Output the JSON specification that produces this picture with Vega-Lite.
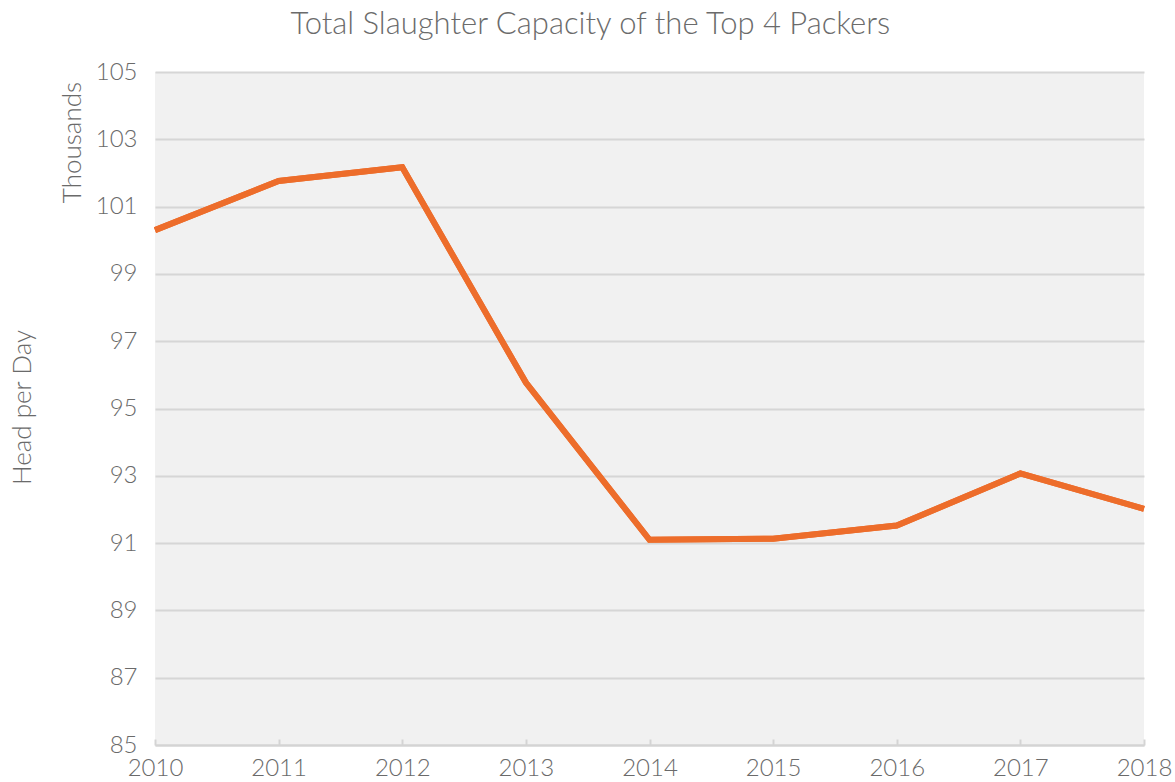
{
  "$schema": "https://vega.github.io/schema/vega-lite/v6.json",
  "autosize": {"type": "none"},
  "width": 989,
  "height": 673,
  "padding": {"left": 155, "top": 72, "right": 31, "bottom": 37},
  "background": "white",
  "title": {
    "text": "Total Slaughter Capacity of the Top 4 Packers",
    "anchor": "middle",
    "frame": "bounds",
    "font": "Lato",
    "fontSize": 31,
    "fontWeight": 300,
    "color": "#6b6b6b",
    "offset": 19
  },
  "config": {
    "view": {"fill": "#f1f1f1", "stroke": null},
    "axis": {
      "labelFont": "Lato",
      "labelFontSize": 24,
      "labelFontWeight": 300,
      "labelColor": "#6a6a6a",
      "titleFont": "Lato",
      "titleFontSize": 26,
      "titleFontWeight": 300,
      "titleColor": "#6a6a6a"
    }
  },
  "data": {
    "values": [
      {"year": 2010, "capacity": 100.3},
      {"year": 2011, "capacity": 101.76},
      {"year": 2012, "capacity": 102.17},
      {"year": 2013, "capacity": 95.77},
      {"year": 2014, "capacity": 91.1},
      {"year": 2015, "capacity": 91.13},
      {"year": 2016, "capacity": 91.52},
      {"year": 2017, "capacity": 93.07},
      {"year": 2018, "capacity": 92.02}
    ]
  },
  "encoding": {
    "x": {
      "field": "year",
      "type": "quantitative",
      "scale": {"domain": [2010, 2018], "nice": false, "zero": false},
      "axis": {
        "values": [2010, 2011, 2012, 2013, 2014, 2015, 2016, 2017, 2018],
        "format": "d",
        "title": null,
        "grid": false,
        "domainColor": "#d4d4d4",
        "domainWidth": 2,
        "tickColor": "#d4d4d4",
        "tickWidth": 2,
        "tickSize": -6,
        "labelPadding": 17,
        "labelFlush": false
      }
    }
  },
  "layer": [
    {
      "mark": {"type": "line", "color": "#ed6d2b", "strokeWidth": 6, "strokeJoin": "miter"},
      "encoding": {
        "y": {
          "field": "capacity",
          "type": "quantitative",
          "scale": {"domain": [85, 105], "nice": false, "zero": false},
          "axis": {
            "values": [85, 87, 89, 91, 93, 95, 97, 99, 101, 103, 105],
            "domain": false,
            "ticks": false,
            "grid": true,
            "gridColor": "#d6d6d6",
            "gridWidth": 2,
            "labelPadding": 18,
            "title": "Head per Day",
            "titleX": -133,
            "titleY": 335,
            "titleAngle": -90,
            "titleAlign": "center",
            "titleBaseline": "middle"
          }
        }
      }
    },
    {
      "mark": {"type": "line", "color": "#ed6d2b", "strokeWidth": 6, "strokeJoin": "miter"},
      "encoding": {
        "y": {
          "field": "capacity",
          "type": "quantitative",
          "axis": {
            "orient": "left",
            "labels": false,
            "domain": false,
            "ticks": false,
            "grid": false,
            "title": "Thousands",
            "titleX": -83,
            "titleY": 70,
            "titleAngle": -90,
            "titleAlign": "center",
            "titleBaseline": "middle"
          }
        }
      }
    }
  ],
  "resolve": {"axis": {"y": "independent"}}
}
